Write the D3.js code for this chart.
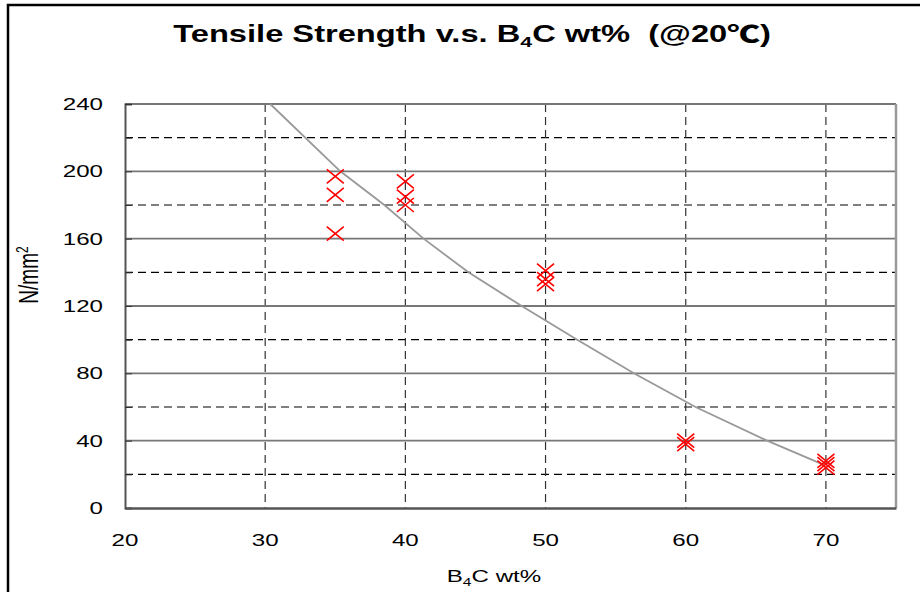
<!DOCTYPE html>
<html>
<head>
<meta charset="utf-8">
<script src="https://cdn.jsdelivr.net/npm/d3@7"></script>
<style>
  body { margin: 0; background: #fff; }
  svg { display: block; font-family: "Liberation Sans", Arial, sans-serif; }
</style>
</head>
<body>
<svg id="chart" width="920" height="592"></svg>
<script>
// measured points (B4C wt%, N/mm2)
var pointX = [35, 35, 35, 40, 40, 40, 50, 50, 50, 60, 60, 70, 70, 70];
var pointY = [197, 186, 163, 194, 185, 180, 141, 136, 133, 40, 38, 28, 26, 24];

// trend line
var trendX = [30.36, 35.36, 38.5, 41.3, 44.5, 48.3, 52.26, 56.3, 60.7, 65.8, 69.9];
var trendY = [240, 200, 180, 160, 140, 120, 100, 80, 60, 40, 25.5];

var xTicks = [20, 30, 40, 50, 60, 70];
var yTicks = [0, 40, 80, 120, 160, 200, 240];
var yMinor = [20, 60, 100, 140, 180, 220];

var margin = { left: 125, top: 104, right: 24, bottom: 84 };
var W = 920, H = 592;
var STRETCH = 1.42; // text in the picture is drawn wide

var svg = d3.select('#chart');

// outer frame (runs off the right and bottom of the picture)
svg.append('rect')
    .attr('x', 8).attr('y', 5)
    .attr('width', 940).attr('height', 620)
    .attr('fill', '#fff')
    .attr('stroke', '#000').attr('stroke-width', 2.5);

var x = d3.scaleLinear().domain([20, 75]).range([margin.left, W - margin.right]);
var y = d3.scaleLinear().domain([0, 240]).range([H - margin.bottom, margin.top]);

function at(px, py) {
    return 'translate(' + px + ',' + py + ') scale(' + STRETCH + ',1)';
}

var g = svg.append('g');

// dashed minor gridlines
g.selectAll('line.minor')
    .data(yMinor)
    .enter().append('line')
    .attr('class', 'minor')
    .attr('x1', x(20)).attr('x2', x(75))
    .attr('y1', function (d) { return y(d); })
    .attr('y2', function (d) { return y(d); })
    .attr('stroke', '#000').attr('stroke-width', 1.2)
    .attr('stroke-dasharray', '8,5');

// dashed verticals
g.selectAll('line.vgrid')
    .data(xTicks.slice(1))
    .enter().append('line')
    .attr('class', 'vgrid')
    .attr('x1', function (d) { return x(d); })
    .attr('x2', function (d) { return x(d); })
    .attr('y1', y(240)).attr('y2', y(0))
    .attr('stroke', '#333').attr('stroke-width', 1.2)
    .attr('stroke-dasharray', '8,5');

// solid major gridlines
g.selectAll('line.major')
    .data(yTicks.slice(1))
    .enter().append('line')
    .attr('class', 'major')
    .attr('x1', x(20)).attr('x2', x(75))
    .attr('y1', function (d) { return y(d); })
    .attr('y2', function (d) { return y(d); })
    .attr('stroke', '#777').attr('stroke-width', 1.8);

// right border
g.append('line')
    .attr('x1', x(75)).attr('x2', x(75))
    .attr('y1', y(240)).attr('y2', y(0))
    .attr('stroke', '#999').attr('stroke-width', 2.5);

// axes
var yAxis = d3.axisLeft(y).tickValues(d3.range(0, 241, 20)).tickSize(-7).tickFormat('');
g.append('g')
    .attr('transform', 'translate(' + margin.left + ',0)')
    .call(yAxis)
    .call(function (s) {
        s.select('.domain').attr('stroke', '#555').attr('stroke-width', 2);
        s.selectAll('.tick line').attr('stroke', '#333').attr('stroke-width', 1);
    });

var xAxis = d3.axisBottom(x).tickValues(xTicks).tickSize(0).tickFormat('');
g.append('g')
    .attr('transform', 'translate(0,' + y(0) + ')')
    .call(xAxis)
    .call(function (s) {
        s.select('.domain').attr('stroke', '#555').attr('stroke-width', 2.5);
    });

// tick labels
g.selectAll('text.ylab')
    .data(yTicks)
    .enter().append('text')
    .attr('transform', function (d) { return at(103, y(d) + 6); })
    .attr('text-anchor', 'end')
    .attr('font-size', 17)
    .text(function (d) { return d; });

g.selectAll('text.xlab')
    .data(xTicks)
    .enter().append('text')
    .attr('transform', function (d) { return at(x(d), 546); })
    .attr('text-anchor', 'middle')
    .attr('font-size', 17)
    .text(function (d) { return d; });

// trend line
var line = d3.line()
    .x(function (d) { return x(d[0]); })
    .y(function (d) { return y(d[1]); });
g.append('path')
    .datum(d3.zip(trendX, trendY))
    .attr('d', line)
    .attr('fill', 'none')
    .attr('stroke', '#999').attr('stroke-width', 1.8);

// X markers
var mx = 8.5, my = 7;
var marks = g.selectAll('g.mark')
    .data(d3.zip(pointX, pointY))
    .enter().append('g')
    .attr('transform', function (d) { return 'translate(' + x(d[0]) + ',' + y(d[1]) + ')'; });
marks.append('path')
    .attr('d', 'M' + (-mx) + ',' + (-my) + 'L' + mx + ',' + my + 'M' + (-mx) + ',' + my + 'L' + mx + ',' + (-my))
    .attr('stroke', '#ff0000').attr('stroke-width', 1.6).attr('fill', 'none');

// title
var title = svg.append('text')
    .attr('transform', at(472, 42))
    .attr('text-anchor', 'middle')
    .attr('font-size', 23).attr('font-weight', 'bold');
title.append('tspan').text('Tensile Strength v.s. B');
title.append('tspan').attr('font-size', 15).attr('dy', 5).text('4');
title.append('tspan').attr('dy', -5).text('C wt%\u00a0\u00a0(@20');
title.append('tspan').attr('font-family', '"Noto Sans CJK JP", sans-serif').attr('font-weight', 900).text('\u2103');
title.append('tspan').text(')');

// axis titles
var xt = svg.append('text')
    .attr('transform', at(494, 582))
    .attr('text-anchor', 'middle')
    .attr('font-size', 17);
xt.append('tspan').text('B');
xt.append('tspan').attr('font-size', 11).attr('dy', 4).text('4');
xt.append('tspan').attr('dy', -4).text('C wt%');

var yt = svg.append('text')
    .attr('transform', 'translate(38,275) scale(' + STRETCH + ',1) rotate(-90)')
    .attr('text-anchor', 'middle')
    .attr('font-size', 19);
yt.append('tspan').text('N/mm');
yt.append('tspan').attr('font-size', 12).attr('dy', -7).text('2');
</script>
</body>
</html>
